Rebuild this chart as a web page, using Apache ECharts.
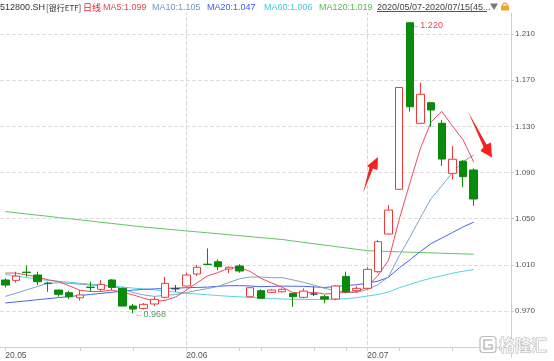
<!DOCTYPE html>
<html><head><meta charset="utf-8">
<script src="https://cdn.jsdelivr.net/npm/echarts@6/dist/echarts.min.js"></script>
<style>html,body{margin:0;padding:0;background:#fff}#c{width:554px;height:361px}</style>
</head><body><div id="c"></div>
<script>
// ---- data ----
const xLabels = ['20.05','','','','','','','','','','','','','','','','','20.06','','','','','','','','','','','','','','','','','20.07','','','','','','','','','','','','',''];
const weekTicks = [7, 12, 22, 24, 29, 32, 37, 42];
const monthLines = [17, 34];
const yTicks = [0.97, 1.01, 1.05, 1.09, 1.13, 1.17, 1.21];

const open  = [0.9969,0.9966,1.0037,1.0012,0.9942,0.9882,0.9859,0.9815,0.9907,0.9888,0.9969,0.9897,0.9743,0.9723,0.9761,0.9819,0.9893,0.9917,1.0021,1.0106,1.0127,1.0064,1.0090,0.9824,0.9876,0.9862,0.9867,0.9853,0.9819,0.9847,0.9824,0.9804,1.0000,0.9876,0.9897,1.0041,1.0367,1.0755,1.2198,1.1327,1.1505,1.1327,1.0893,1.0998,1.0922];
const close = [0.9925,1.0003,1.0033,0.9954,0.9938,0.9845,0.9824,0.9839,0.9904,0.9931,0.9905,0.9743,0.9717,0.9758,0.9801,0.9940,0.9893,1.0012,1.0079,1.0103,1.0084,1.0079,1.0047,0.9902,0.9810,0.9882,0.9888,0.9824,0.9873,0.9847,0.9804,0.9917,0.9867,0.9897,1.0061,1.0301,1.0575,1.1637,1.1470,1.1578,1.1442,1.1017,1.1015,1.0864,1.0671];
const low   = [0.9905,0.9945,0.9997,0.9925,0.9867,0.9824,0.9804,0.9789,0.9867,0.9867,0.9882,0.9743,0.9680,0.9713,0.9743,0.9810,0.9867,0.9911,1.0003,1.0103,1.0055,1.0027,1.0032,0.9821,0.9808,0.9856,0.9860,0.9737,0.9810,0.9830,0.9767,0.9795,0.9853,0.9867,0.9888,1.0032,1.0363,1.0750,1.1427,1.1320,1.1297,1.0957,1.0841,1.0772,1.0612];
const high  = [0.9983,1.0041,1.0093,1.0041,0.9954,0.9882,0.9876,0.9882,0.9954,0.9969,0.9977,0.9905,0.9761,0.9769,0.9824,0.9997,0.9925,1.0032,1.0099,1.0243,1.0148,1.0086,1.0105,0.9908,0.9888,0.9891,0.9895,0.9856,0.9897,0.9911,0.9839,0.9925,1.0041,0.9917,1.0079,1.0315,1.0619,1.1640,1.2200,1.1678,1.1511,1.1355,1.1130,1.1008,1.0937];

const ma5   = [1.0029,1.0029,1.0012,0.9995,0.9971,0.9955,0.9919,0.9880,0.9870,0.9869,0.9881,0.9864,0.9840,0.9811,0.9785,0.9792,0.9822,0.9881,0.9945,1.0005,1.0034,1.0071,1.0078,1.0043,0.9984,0.9944,0.9906,0.9861,0.9855,0.9863,0.9847,0.9853,0.9862,0.9866,0.9909,1.0009,1.0140,1.0494,1.0809,1.1112,1.1340,1.1429,1.1304,1.1183,1.0990];
const ma10  = [0.9827,0.9855,0.9883,0.9912,0.9940,0.9945,0.9940,0.9932,0.9925,0.9920,0.9918,0.9892,0.9860,0.9840,0.9827,0.9836,0.9843,0.9860,0.9878,0.9895,0.9913,0.9947,0.9980,0.9994,0.9995,0.9989,0.9989,0.9970,0.9949,0.9924,0.9896,0.9879,0.9861,0.9861,0.9886,0.9928,0.9997,1.0178,1.0338,1.0511,1.0675,1.0785,1.0899,1.0996,1.1050];
const ma20  = [0.9770,0.9779,0.9788,0.9798,0.9807,0.9816,0.9825,0.9835,0.9844,0.9853,0.9862,0.9872,0.9881,0.9888,0.9892,0.9896,0.9899,0.9902,0.9905,0.9907,0.9915,0.9919,0.9920,0.9917,0.9911,0.9913,0.9916,0.9915,0.9914,0.9909,0.9904,0.9913,0.9921,0.9928,0.9941,0.9959,0.9993,1.0074,1.0143,1.0217,1.0285,1.0332,1.0380,1.0429,1.0470];
const ma60  = [1.0016,1.0003,0.9990,0.9977,0.9965,0.9957,0.9950,0.9941,0.9933,0.9925,0.9917,0.9908,0.9899,0.9892,0.9883,0.9873,0.9864,0.9854,0.9848,0.9841,0.9834,0.9828,0.9823,0.9818,0.9814,0.9808,0.9804,0.9802,0.9801,0.9800,0.9801,0.9802,0.9807,0.9816,0.9830,0.9843,0.9865,0.9902,0.9930,0.9960,0.9986,1.0005,1.0028,1.0045,1.0060];
const ma120 = [1.0562,1.0552,1.0541,1.0531,1.0521,1.0510,1.0500,1.0490,1.0480,1.0469,1.0459,1.0449,1.0438,1.0428,1.0420,1.0411,1.0403,1.0394,1.0386,1.0378,1.0370,1.0361,1.0353,1.0345,1.0336,1.0328,1.0320,1.0307,1.0295,1.0283,1.0271,1.0259,1.0247,1.0235,1.0223,1.0219,1.0216,1.0213,1.0210,1.0207,1.0204,1.0201,1.0198,1.0195,1.0192];

// ---- chart ----
const F = "'Liberation Sans', 'Noto Sans CJK SC', Arial, sans-serif";
const CJK = "'Noto Sans CJK SC', 'Liberation Sans', sans-serif";
const cats = xLabels.map((_, i) => String(i));
const kData = open.map((o, i) => [o, close[i], low[i], high[i]]);
const last = a => a[a.length - 1].toFixed(3);
const C = {ma5:'#ee4b5e', ma10:'#7ea2c9', ma20:'#4a62ee', ma60:'#58d2e2', ma120:'#62c462'};

function txt(x, text, color, font) {
  return {type:'text', z:110, style:{x:x, y:7.5, text:text, fill:color, font:font || ('9px ' + F), textVerticalAlign:'middle', verticalAlign:'middle'}};
}
function ma(name, data, color) {
  return {name:name, type:'line', data:data, symbol:'none', smooth:false, z:2,
    lineStyle:{width:1, color:color}, itemStyle:{color:color}, silent:true};
}

const chart = echarts.init(document.getElementById('c'));
chart.setOption({
  animation:false,
  grid:{left:-1, right:43, top:0, bottom:3.8},
  xAxis:{
    type:'category', data:cats, boundaryGap:true, offset:-10.2,
    axisLine:{lineStyle:{color:'#cfcfcf'}},
    axisTick:{show:true, alignWithLabel:true, interval:(i) => weekTicks.includes(i) || xLabels[i] !== '', length:4, lineStyle:{color:'#cfcfcf'}},
    axisLabel:{interval:(i) => xLabels[i] !== '', formatter:(v) => xLabels[+v], align:'left', color:'#555', fontSize:8.5, fontFamily:F, margin:4},
    splitLine:{show:false}
  },
  yAxis:{
    type:'value', position:'right', min:0.93, max:1.2395, interval:0.04,
    axisLine:{show:true, lineStyle:{color:'#cfcfcf'}},
    axisTick:{show:true, length:3, lineStyle:{color:'#cfcfcf'}},
    axisLabel:{color:'#555', fontSize:8, fontFamily:F, margin:4, showMinLabel:false, showMaxLabel:false,
      formatter:(v) => yTicks.some(t => Math.abs(t - v) < 1e-6) ? v.toFixed(3) : ''},
    splitLine:{show:true, showMinLine:false, showMaxLine:false, lineStyle:{color:'#dedede', type:'dashed'}}
  },
  series:[
    ma('MA120', ma120, C.ma120),
    ma('MA60', ma60, C.ma60),
    ma('MA20', ma20, C.ma20),
    ma('MA10', ma10, C.ma10),
    ma('MA5', ma5, C.ma5),
    {
      name:'K', type:'candlestick', data:kData, barWidth:8, z:5,
      itemStyle:{color:'#ffffff', color0:'#0a8a0a', borderColor:'#f03a3a', borderColor0:'#0a8a0a', borderColorDoji:'#3a4260', borderWidth:1},
      markLine:{
        silent:true, symbol:['none','none'], label:{show:false}, z:1,
        lineStyle:{color:'#d6d6d6', type:'dashed', width:1},
        data:monthLines.map(i => ({xAxis:cats[i]}))
      },
      markPoint:{
        symbol:'circle', symbolSize:1, itemStyle:{color:'rgba(0,0,0,0)'}, silent:true,
        data:[
          {type:'max', valueDim:'highest', label:{show:true, position:'right', offset:[-4, 3],
            formatter:(p) => '{a|←}{b|' + p.value.toFixed(3) + '}',
            rich:{a:{color:'#79a3c9', fontSize:9, fontFamily:F}, b:{color:'#e5484d', fontSize:9, fontFamily:F}}}},
          {type:'min', valueDim:'lowest', label:{show:true, position:'right', offset:[-4, 1],
            formatter:(p) => '{a|←}{b|' + p.value.toFixed(3) + '}',
            rich:{a:{color:'#9ab5cf', fontSize:9, fontFamily:F}, b:{color:'#4f9f5f', fontSize:9, fontFamily:F}}}}
        ]
      }
    }
  ],
  graphic:[
    {type:'rect', z:100, shape:{x:0, y:0, width:554, height:12.5}, style:{fill:'#fff'}},
    txt(0, '512800.SH', '#333'),
    txt(46, '[银行ETF]', '#333', '8px ' + CJK),
    txt(83, '日线', '#e8202a', '9px ' + CJK),
    txt(103, 'MA5:' + last(ma5), '#e8464f'),
    txt(152, 'MA10:' + last(ma10), '#6f97c2'),
    txt(207, 'MA20:' + last(ma20), '#3c5af0'),
    txt(264, 'MA60:' + last(ma60), '#44c8de'),
    txt(319, 'MA120:' + last(ma120), '#4cbf4c'),
    txt(377, '2020/05/07-2020/07/15(45...', '#444'),
    {type:'line', z:110, shape:{x1:377, y1:11.5, x2:487, y2:11.5}, style:{stroke:'#555', lineWidth:1}},
    {type:'polygon', z:110, shape:{points:[[490,3.5],[498,3.5],[494,10]]}, style:{fill:'#777'}},
    {type:'rect', z:110, shape:{x:501, y:5.5, width:8, height:5}, style:{fill:'#f2a428'}},
    {type:'arc', z:110, shape:{cx:505, cy:5.5, r:2.3, startAngle:Math.PI, endAngle:0}, style:{stroke:'#f2a428', fill:null, lineWidth:1.2}},
    // red annotation arrows
    {type:'polygon', z:110, shape:{points:[[363,193],[369.5,167.5],[367,166],[378,157],[377.5,170],[373,168.5]]}, style:{fill:'#f5221f'}},
    {type:'polygon', z:110, shape:{points:[[468,111.5],[486.5,144.5],[491,142.5],[492,157.5],[480.5,151],[483.5,147]]}, style:{fill:'#f5221f'}},
    // watermark
    {type:'rect', z:110, shape:{x:480, y:336.5, width:16, height:16, r:3}, style:{fill:'rgba(255,255,255,0.6)', stroke:'#bdbdbd', lineWidth:1.2}},
    {type:'polyline', z:111, shape:{points:[[492,340],[484,340],[484,349],[492,349],[492,345],[488,345]]}, style:{stroke:'#bdbdbd', lineWidth:1.6, fill:null}},
    {type:'text', z:110, style:{x:499, y:345, text:'格隆汇', font:'bold 16px ' + CJK, fill:'rgba(255,255,255,0.7)', stroke:'#b8b8b8', lineWidth:1, textVerticalAlign:'middle', verticalAlign:'middle'}}
  ]
});
</script>
</body></html>
